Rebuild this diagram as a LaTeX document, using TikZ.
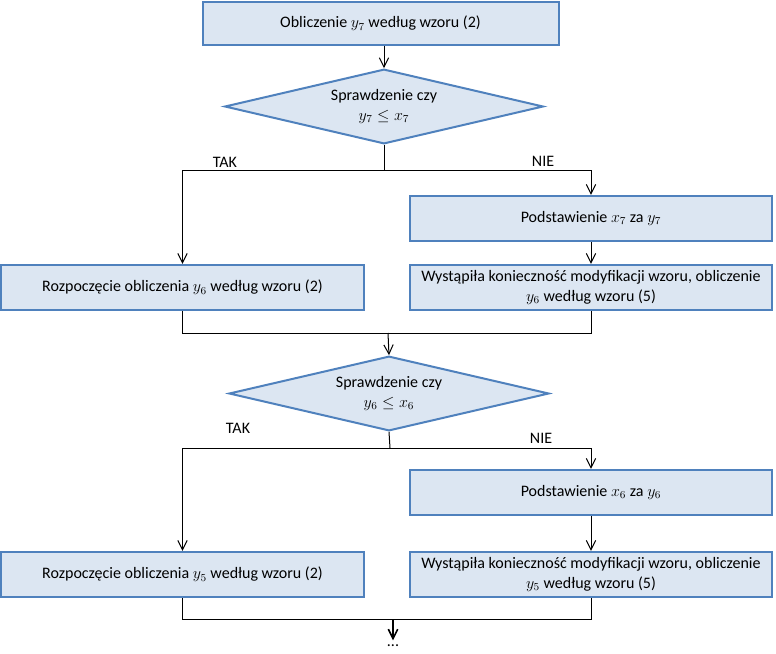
\documentclass[tikz,border=0pt]{standalone}
\usepackage{fontspec}
\setmainfont{Carlito}
\usetikzlibrary{shapes.geometric,arrows.meta}

\definecolor{boxfill}{HTML}{DCE6F2}
\definecolor{boxline}{HTML}{4F81BD}

\begin{document}
\begin{tikzpicture}[
    x=0.75pt, y=-0.75pt,
    >={Straight Barb[length=7pt,width=7pt]},
    every node/.style={font=\fontsize{12}{15}\selectfont},
    box/.style={draw=boxline, fill=boxfill, line width=1.5pt,
        minimum width=272pt, minimum height=34pt, align=center, inner sep=2pt},
    decision/.style={diamond, draw=boxline, fill=boxfill, line width=1.5pt,
        aspect=4.3, inner sep=0pt, minimum width=239pt, minimum height=56pt, align=center},
    flow/.style={draw=black, line width=0.75pt}
]
\useasboundingbox (0,0) rectangle (776,654);

% ---------------- Step 7 ----------------
\node[box, minimum width=267pt, minimum height=32pt] (oblicz7) at (380.5,23.5) {Obliczenie $y_7$ według wzoru (2)};
\node[decision] (spr7) at (384,106.5) {Sprawdzenie czy\\$y_7 \le x_7$};
\node[box] (podst7) at (591,218.5) {Podstawienie $x_7$ za $y_7$};
\node[box] (wyst6) at (591,287.5) {Wystąpiła konieczność modyfikacji wzoru, obliczenie\\$y_6$ według wzoru (5)};
\node[box] (rozp6) at (182.5,287.5) {Rozpoczęcie obliczenia $y_6$ według wzoru (2)};
\node (tak7) at (225,162) {TAK};
\node (nie7) at (543,161) {NIE};

% ---------------- Step 6 ----------------
\node[decision, minimum width=240pt] (spr6) at (389,393.5) {Sprawdzenie czy\\$y_6 \le x_6$};
\node[box] (podst6) at (591,492.5) {Podstawienie $x_6$ za $y_6$};
\node[box] (wyst5) at (591,574.5) {Wystąpiła konieczność modyfikacji wzoru, obliczenie\\$y_5$ według wzoru (5)};
\node[box] (rozp5) at (182.5,574.5) {Rozpoczęcie obliczenia $y_5$ według wzoru (2)};
\node (tak6) at (238,428) {TAK};
\node (nie6) at (541,438) {NIE};
\node (dalej) at (393,646) {...};

% ---------------- Junctions ----------------
\coordinate (split7) at (384,170.5);
\coordinate (join6) at (388,333);
\coordinate (split6) at (390,448);
\coordinate (join5) at (393,619.5);

% ---------------- Transitions ----------------
\draw[flow,->] (spr7.north |- oblicz7.south) -- (spr7.north);
\draw[flow] (spr7.south) -- (split7);
\draw[flow,->] (split7) -| (rozp6.north);
\draw[flow,->] (split7) -| (podst7.north);
\draw[flow,->] (podst7) -- (wyst6);

\draw[flow] (rozp6.south) |- (join6);
\draw[flow] (wyst6.south) |- (join6);
\draw[flow,->] (join6) -- (spr6.north);

\draw[flow] (spr6.south) -- (split6);
\draw[flow,->] (split6) -| (rozp5.north);
\draw[flow,->] (split6) -| (podst6.north);
\draw[flow,->] (podst6) -- (wyst5);

\draw[flow] (rozp5.south) |- (join5);
\draw[flow] (wyst5.south) |- (join5);
\draw[flow,->,line width=1.2pt] (join5) -- (dalej.north);

\end{tikzpicture}
\end{document}
